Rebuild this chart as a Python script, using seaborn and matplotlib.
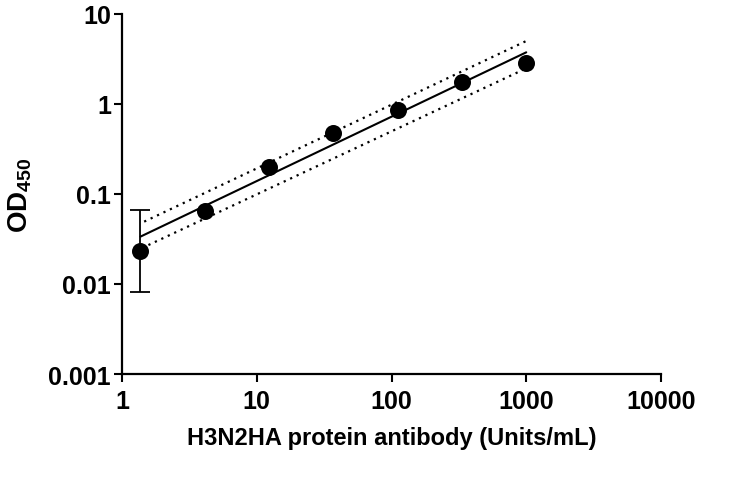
import matplotlib

matplotlib.use("Agg")
import matplotlib.pyplot as plt
import pandas as pd
import seaborn as sns

# measured points
conc = [1.37, 4.12, 12.3, 37.0, 111.0, 333.0, 1000.0]
od450 = [0.0233, 0.065, 0.198, 0.476, 0.85, 1.77, 2.88]
err_low = [0.0082]
err_high = [0.066]

# fitted line and its dotted bands
fit_x = [1.37, 1000.0]
fit_y = [0.0336, 3.75]
upper_x = [1.46, 1000.0]
upper_y = [0.0493, 5.01]
lower_x = [1.57, 1000.0]
lower_y = [0.0271, 2.49]

x_ticks = [1, 10, 100, 1000, 10000]
x_labels = ["1", "10", "100", "1000", "10000"]
y_ticks = [0.001, 0.01, 0.1, 1, 10]
y_labels = ["0.001", "0.01", "0.1", "1", "10"]


def main():
    sns.set_style("ticks")
    plt.rcParams["font.family"] = ["Liberation Sans", "DejaVu Sans"]
    plt.rcParams["mathtext.fontset"] = "custom"
    plt.rcParams["mathtext.rm"] = "Liberation Sans"
    plt.rcParams["mathtext.bf"] = "Liberation Sans:bold"

    fig = plt.figure(figsize=(7.5, 4.85), dpi=100)
    ax = fig.add_axes([0.1627, 0.2268, 0.7186, 0.7423])

    pts = pd.DataFrame({"conc": conc, "od": od450})
    fit = pd.DataFrame({"x": fit_x, "y": fit_y})
    up = pd.DataFrame({"x": upper_x, "y": upper_y})
    lo = pd.DataFrame({"x": lower_x, "y": lower_y})

    sns.lineplot(data=fit, x="x", y="y", color="black", lw=1.5, ax=ax)
    sns.lineplot(data=up, x="x", y="y", color="black", lw=1.6,
                 linestyle=(0, (1, 2.2)), ax=ax)
    sns.lineplot(data=lo, x="x", y="y", color="black", lw=1.6,
                 linestyle=(0, (1, 2.2)), ax=ax)

    ax.errorbar(conc[:1], od450[:1],
                yerr=[[od450[0] - err_low[0]], [err_high[0] - od450[0]]],
                fmt="none", ecolor="black", elinewidth=1.3, capsize=7,
                capthick=1.3, zorder=3)
    sns.scatterplot(data=pts, x="conc", y="od", color="black", s=150,
                    edgecolor="black", linewidth=0, zorder=4, ax=ax)

    ax.set_xscale("log")
    ax.set_yscale("log")
    ax.set_xlim(1, 10000)
    ax.set_ylim(0.001, 10)
    ax.set_xticks(x_ticks)
    ax.set_xticklabels(x_labels)
    ax.set_yticks(y_ticks)
    ax.set_yticklabels(y_labels)
    ax.minorticks_off()
    ax.tick_params(axis="both", length=6, width=1.5, labelsize=18,
                   color="black", labelcolor="black", pad=2)
    ax.tick_params(axis="x", pad=5)
    for lab in ax.get_xticklabels() + ax.get_yticklabels():
        lab.set_fontweight("bold")
    for side in ["left", "bottom"]:
        ax.spines[side].set_linewidth(1.6)
        ax.spines[side].set_color("black")
    sns.despine(ax=ax)

    ax.set_xlabel("H3N2HA protein antibody (Units/mL)", fontsize=17,
                  fontweight="bold", color="black", labelpad=9)
    ax.set_ylabel(r"$\mathbf{OD_{450}}$", fontsize=20, color="black",
                  labelpad=10)

    fig.savefig("out.png", dpi=100)


main()
